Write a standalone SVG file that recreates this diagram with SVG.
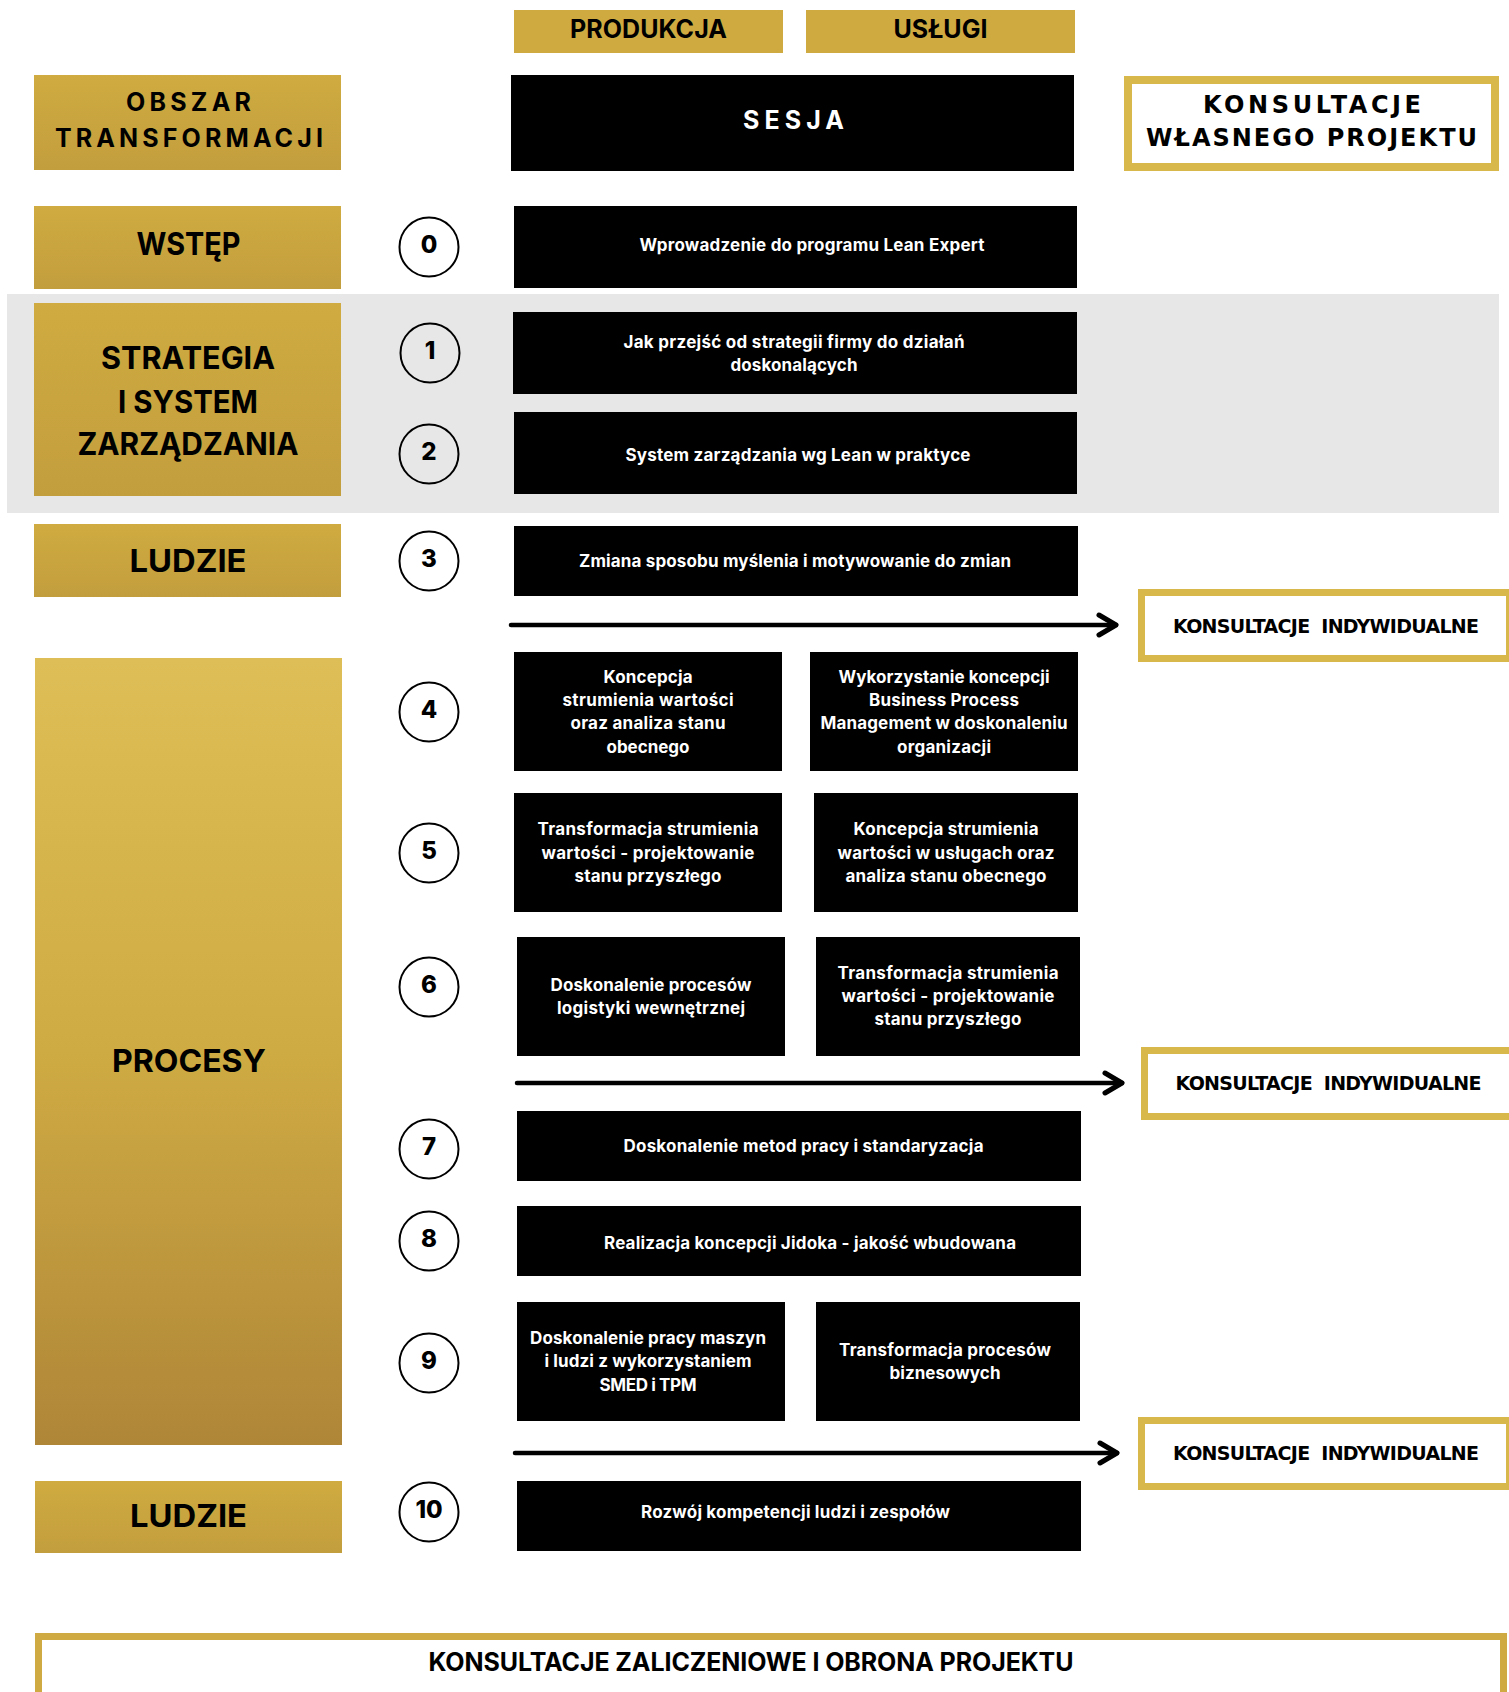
<svg xmlns="http://www.w3.org/2000/svg" width="1509" height="1692" viewBox="0 0 1509 1692">
<defs>
<linearGradient id="gGold" x1="0" y1="0" x2="0" y2="1">
<stop offset="0" stop-color="#CFAB41"/>
<stop offset="1" stop-color="#C39E3D"/>
</linearGradient>
<linearGradient id="gProc" x1="0" y1="0" x2="0" y2="1">
<stop offset="0" stop-color="#DEBE56"/>
<stop offset="0.5" stop-color="#CFAB43"/>
<stop offset="1" stop-color="#AF8638"/>
</linearGradient>
<marker id="chev" markerUnits="userSpaceOnUse" markerWidth="30" markerHeight="30" viewBox="-20 -15 25 30" refX="0" refY="0" orient="auto" overflow="visible">
<path d="M -17 -10 L 0 0 L -17 10" fill="none" stroke="#000" stroke-width="5" stroke-linecap="round" stroke-linejoin="round"/>
</marker>
</defs>
<style>
.gold{fill:url(#gGold)}
.blk{fill:#000}
.cons{fill:#fff;stroke:#D8B74B;stroke-width:7}
.num{fill:none;stroke:#000;stroke-width:2}
.numt{font-family:Inter,"Liberation Sans",sans-serif;font-weight:800;font-size:24px;text-anchor:middle;fill:#000}
.hd{font-family:Inter,"Liberation Sans",sans-serif;font-weight:700;font-size:31.5px;text-anchor:middle;fill:#000}
.sh{font-family:Inter,"Liberation Sans",sans-serif;font-weight:700;font-size:25px;text-anchor:middle;fill:#000}
.bt{font-family:Inter,"Liberation Sans",sans-serif;font-weight:700;font-size:17px;text-anchor:middle;fill:#fff}
.wide{font-family:"DejaVu Sans","Liberation Sans",sans-serif;font-weight:700;text-anchor:middle;fill:#000}
.arr{fill:none;stroke:#000;stroke-width:4.5;stroke-linecap:round;marker-end:url(#chev)}
</style>

<rect id="band" x="7" y="294" width="1492" height="219" fill="#E7E7E7"/>

<g id="col-produkcja">
<rect x="514" y="10" width="269" height="43" fill="#CFAA40"/>
<text class="sh" x="648.5" y="38" textLength="157">PRODUKCJA</text>
</g>
<g id="col-uslugi">
<rect x="806" y="10" width="269" height="43" fill="#CFAA40"/>
<text class="sh" x="940.5" y="38" textLength="94">USŁUGI</text>
</g>

<g id="obszar">
<rect class="gold" x="34" y="75" width="307" height="95"/>
<text class="sh" x="188.5" y="111" textLength="125">OBSZAR</text>
<text class="sh" x="189" y="147" textLength="268">TRANSFORMACJI</text>
</g>
<g id="sesja">
<rect class="blk" x="511" y="75" width="563" height="96"/>
<text class="sh" x="793.5" y="129" textLength="101" style="fill:#fff">SESJA</text>
</g>
<g id="konsultacje-wlasnego">
<rect x="1128" y="80" width="367" height="87" fill="#fff" stroke="#D8B74B" stroke-width="8"/>
<text class="wide" x="1312" y="112.5" font-size="24" textLength="218">KONSULTACJE</text>
<text class="wide" x="1311.5" y="146" font-size="24" textLength="331">WŁASNEGO PROJEKTU</text>
</g>

<g id="area-wstep">
<rect class="gold" x="34" y="206" width="307" height="83"/>
<text class="hd" x="188.5" y="255" textLength="104" lengthAdjust="spacingAndGlyphs">WSTĘP</text>
</g>
<g id="area-strategia">
<rect class="gold" x="34" y="303" width="307" height="193"/>
<text class="hd" x="188" y="369" textLength="174" lengthAdjust="spacingAndGlyphs">STRATEGIA</text>
<text class="hd" x="188" y="413" textLength="140" lengthAdjust="spacingAndGlyphs">I SYSTEM</text>
<text class="hd" x="188" y="455" textLength="221" lengthAdjust="spacingAndGlyphs">ZARZĄDZANIA</text>
</g>
<g id="area-ludzie-1">
<rect class="gold" x="34" y="524" width="307" height="73"/>
<text class="hd" x="188" y="572" textLength="117" lengthAdjust="spacingAndGlyphs">LUDZIE</text>
</g>
<g id="area-procesy">
<rect x="35" y="658" width="307" height="787" fill="url(#gProc)"/>
<text class="hd" x="189" y="1072" textLength="154" lengthAdjust="spacingAndGlyphs">PROCESY</text>
</g>
<g id="area-ludzie-2">
<rect class="gold" x="35" y="1481" width="307" height="72"/>
<text class="hd" x="188.5" y="1527" textLength="117" lengthAdjust="spacingAndGlyphs">LUDZIE</text>
</g>

<g id="num-0"><circle class="num" cx="429" cy="247" r="29.5"/><text class="numt" x="429" y="253">0</text></g>
<g id="num-1"><circle class="num" cx="430" cy="353" r="29.5"/><text class="numt" x="430" y="359">1</text></g>
<g id="num-2"><circle class="num" cx="429" cy="454" r="29.5"/><text class="numt" x="429" y="460">2</text></g>
<g id="num-3"><circle class="num" cx="429" cy="561" r="29.5"/><text class="numt" x="429" y="567">3</text></g>
<g id="num-4"><circle class="num" cx="429" cy="712" r="29.5"/><text class="numt" x="429" y="718">4</text></g>
<g id="num-5"><circle class="num" cx="429" cy="853" r="29.5"/><text class="numt" x="429" y="859">5</text></g>
<g id="num-6"><circle class="num" cx="429" cy="987" r="29.5"/><text class="numt" x="429" y="993">6</text></g>
<g id="num-7"><circle class="num" cx="429" cy="1149" r="29.5"/><text class="numt" x="429" y="1155">7</text></g>
<g id="num-8"><circle class="num" cx="429" cy="1241" r="29.5"/><text class="numt" x="429" y="1247">8</text></g>
<g id="num-9"><circle class="num" cx="429" cy="1363" r="29.5"/><text class="numt" x="429" y="1369">9</text></g>
<g id="num-10"><circle class="num" cx="429" cy="1512" r="29.5"/><text class="numt" x="429" y="1518">10</text></g>

<g id="s0">
<rect class="blk" x="514" y="206" width="563" height="82"/>
<text class="bt" x="812" y="251" textLength="345">Wprowadzenie do programu Lean Expert</text>
</g>
<g id="s1">
<rect class="blk" x="513" y="312" width="564" height="82"/>
<text class="bt" x="794" y="348" textLength="341">Jak przejść od strategii firmy do działań</text>
<text class="bt" x="794" y="371" textLength="127">doskonalących</text>
</g>
<g id="s2">
<rect class="blk" x="514" y="412" width="563" height="82"/>
<text class="bt" x="798" y="461" textLength="345">System zarządzania wg Lean w praktyce</text>
</g>
<g id="s3">
<rect class="blk" x="514" y="526" width="564" height="70"/>
<text class="bt" x="795" y="567" textLength="432">Zmiana sposobu myślenia i motywowanie do zmian</text>
</g>
<g id="s4a">
<rect class="blk" x="514" y="652" width="268" height="119"/>
<text class="bt" x="648" y="683" textLength="89">Koncepcja</text>
<text class="bt" x="648" y="706" textLength="171">strumienia wartości</text>
<text class="bt" x="648" y="729" textLength="155">oraz analiza stanu</text>
<text class="bt" x="648" y="752.5" textLength="83">obecnego</text>
</g>
<g id="s4b">
<rect class="blk" x="810" y="652" width="268" height="119"/>
<text class="bt" x="944" y="683" textLength="211">Wykorzystanie koncepcji</text>
<text class="bt" x="944" y="706" textLength="150">Business Process</text>
<text class="bt" x="944" y="729" textLength="247">Management w doskonaleniu</text>
<text class="bt" x="944" y="752.5" textLength="94">organizacji</text>
</g>
<g id="s5a">
<rect class="blk" x="514" y="793" width="268" height="119"/>
<text class="bt" x="648" y="835" textLength="221">Transformacja strumienia</text>
<text class="bt" x="648" y="858.5" textLength="213">wartości - projektowanie</text>
<text class="bt" x="648" y="881.5" textLength="147">stanu przyszłego</text>
</g>
<g id="s5b">
<rect class="blk" x="814" y="793" width="264" height="119"/>
<text class="bt" x="946" y="835" textLength="185">Koncepcja strumienia</text>
<text class="bt" x="946" y="858.5" textLength="217">wartości w usługach oraz</text>
<text class="bt" x="946" y="881.5" textLength="201">analiza stanu obecnego</text>
</g>
<g id="s6a">
<rect class="blk" x="517" y="937" width="268" height="119"/>
<text class="bt" x="651" y="990.5" textLength="201">Doskonalenie procesów</text>
<text class="bt" x="651" y="1013.5" textLength="188">logistyki wewnętrznej</text>
</g>
<g id="s6b">
<rect class="blk" x="816" y="937" width="264" height="119"/>
<text class="bt" x="948" y="979" textLength="221">Transformacja strumienia</text>
<text class="bt" x="948" y="1002" textLength="213">wartości - projektowanie</text>
<text class="bt" x="948" y="1025" textLength="147">stanu przyszłego</text>
</g>
<g id="s7">
<rect class="blk" x="517" y="1111" width="564" height="70"/>
<text class="bt" x="803.5" y="1152" textLength="360">Doskonalenie metod pracy i standaryzacja</text>
</g>
<g id="s8">
<rect class="blk" x="517" y="1206" width="564" height="70"/>
<text class="bt" x="810" y="1248.5" textLength="412">Realizacja koncepcji Jidoka - jakość wbudowana</text>
</g>
<g id="s9a">
<rect class="blk" x="517" y="1302" width="268" height="119"/>
<text class="bt" x="648" y="1344" textLength="236">Doskonalenie pracy maszyn</text>
<text class="bt" x="648" y="1367" textLength="207">i ludzi z wykorzystaniem</text>
<text class="bt" x="648" y="1391" textLength="97">SMED i TPM</text>
</g>
<g id="s9b">
<rect class="blk" x="816" y="1302" width="264" height="119"/>
<text class="bt" x="945" y="1355.5" textLength="212">Transformacja procesów</text>
<text class="bt" x="945" y="1378.5" textLength="111">biznesowych</text>
</g>
<g id="s10">
<rect class="blk" x="517" y="1481" width="564" height="70"/>
<text class="bt" x="795.5" y="1518" textLength="309">Rozwój kompetencji ludzi i zespołów</text>
</g>

<g id="konsultacje-1">
<rect class="cons" x="1141.5" y="592.5" width="368" height="66"/>
<text class="wide" x="1326" y="633" font-size="19" textLength="306" xml:space="preserve">KONSULTACJE  INDYWIDUALNE</text>
</g>
<g id="konsultacje-2">
<rect class="cons" x="1144.5" y="1050.5" width="368" height="66"/>
<text class="wide" x="1328.5" y="1090" font-size="19" textLength="306" xml:space="preserve">KONSULTACJE  INDYWIDUALNE</text>
</g>
<g id="konsultacje-3">
<rect class="cons" x="1141.5" y="1420.5" width="368" height="66"/>
<text class="wide" x="1326" y="1460" font-size="19" textLength="306" xml:space="preserve">KONSULTACJE  INDYWIDUALNE</text>
</g>

<g id="zaliczenie">
<rect x="38.5" y="1636.5" width="1465" height="100" fill="#fff" stroke="#CFAA42" stroke-width="7"/>
<text class="sh" x="751" y="1671" textLength="645">KONSULTACJE ZALICZENIOWE I OBRONA PROJEKTU</text>
</g>

<g id="connectors">
<path class="arr" d="M 511 625 L 1116 625"/>
<path class="arr" d="M 517 1083 L 1122 1083"/>
<path class="arr" d="M 515 1453 L 1117 1453"/>
</g>
</svg>
